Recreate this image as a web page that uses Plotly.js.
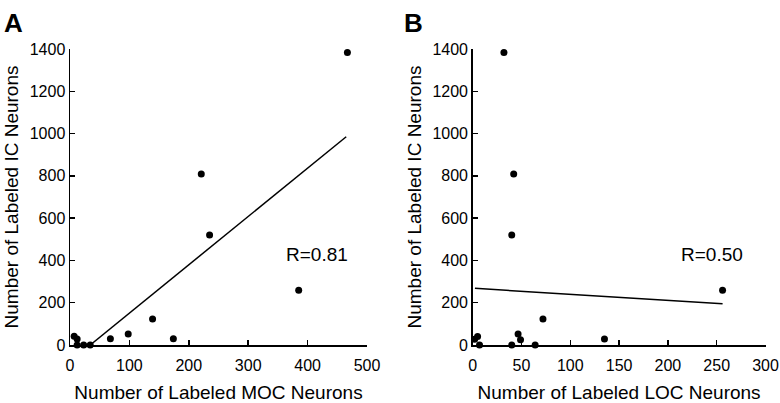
<!DOCTYPE html>
<html>
<head>
<meta charset="utf-8">
<script src="https://cdn.plot.ly/plotly-3.0.1.min.js"></script>
<style>html,body{margin:0;padding:0;background:#fff;}#chart{width:780px;height:403px;}</style>
</head>
<body>
<div id="chart"></div>
<script>
// Panel A: MOC vs IC
const mocNeurons = [467, 221, 235, 385, 139, 98, 68, 174, 7, 12, 12, 23, 34];
const icNeuronsA = [1383, 809, 520, 259, 123, 52, 30, 30, 41, 28, 0, 0, 0];
const fitA_x = [34, 465];
const fitA_y = [0, 985];
const labelA = "R=0.81";

// Panel B: LOC vs IC
const locNeurons = [32, 42, 40, 256, 72, 46.5, 49, 135, 5, 2, 7, 40, 64];
const icNeuronsB = [1383, 809, 520, 259, 123, 52, 25, 28, 40, 27, 0, 0, 0];
const fitB_x = [2.3, 256];
const fitB_y = [268, 195];
const labelB = "R=0.50";

const yTicks = [0, 200, 400, 600, 800, 1000, 1200, 1400];
const xTicksA = [0, 100, 200, 300, 400, 500];
const xTicksB = [0, 50, 100, 150, 200, 250, 300];

const FONT = "Liberation Sans, Arial, Helvetica, sans-serif";
const mk = {color: "#000", size: 7};

const traces = [
  {x: mocNeurons, y: icNeuronsA, mode: "markers", type: "scatter", marker: mk, xaxis: "x", yaxis: "y", cliponaxis: false, showlegend: false},
  {x: fitA_x, y: fitA_y, mode: "lines", type: "scatter", line: {color: "#000", width: 1.5}, xaxis: "x", yaxis: "y", cliponaxis: false, showlegend: false},
  {x: locNeurons, y: icNeuronsB, mode: "markers", type: "scatter", marker: mk, xaxis: "x2", yaxis: "y2", cliponaxis: false, showlegend: false},
  {x: fitB_x, y: fitB_y, mode: "lines", type: "scatter", line: {color: "#000", width: 1.5}, xaxis: "x2", yaxis: "y2", cliponaxis: false, showlegend: false}
];

function xax(domain, ticks, title, anchor) {
  return {
    domain: domain, range: [0, ticks[ticks.length - 1]], anchor: anchor,
    tickvals: ticks, ticktext: ticks.map(String),
    showline: true, linecolor: "#000", linewidth: 1.5,
    ticks: "inside", ticklen: 5, tickwidth: 1.5, tickcolor: "#000",
    showgrid: false, zeroline: false,
    ticklabeloverflow: "allow", ticklabelstandoff: 5,
    tickfont: {family: FONT, size: 16, color: "#000"},
    title: {text: title, font: {family: FONT, size: 19, color: "#000"}, standoff: 15},
    automargin: false, fixedrange: true
  };
}
function yax(domain, anchor) {
  return {
    domain: domain, range: [0, 1400], anchor: anchor,
    tickvals: yTicks, ticktext: yTicks.map(String),
    showline: true, linecolor: "#000", linewidth: 1.5,
    ticks: "inside", ticklen: 5, tickwidth: 1.5, tickcolor: "#000",
    showgrid: false, zeroline: false,
    ticklabeloverflow: "allow",
    tickfont: {family: FONT, size: 16, color: "#000"},
    title: {text: "Number of Labeled IC Neurons", font: {family: FONT, size: 19, color: "#000"}, standoff: 6},
    automargin: false, fixedrange: true
  };
}

const yDom = [(403 - 345) / 403, (403 - 49) / 403];
const layout = {
  width: 780, height: 403,
  margin: {l: 0, r: 0, t: 0, b: 0},
  paper_bgcolor: "#fff", plot_bgcolor: "#fff",
  xaxis: xax([70 / 780, 367 / 780], xTicksA, "Number of Labeled MOC Neurons", "y"),
  yaxis: yax(yDom, "x"),
  xaxis2: xax([472.7 / 780, 765.5 / 780], xTicksB, "Number of Labeled LOC Neurons", "y2"),
  yaxis2: yax(yDom, "x2"),
  annotations: [
    {text: "<b>A</b>", xref: "paper", yref: "paper", x: 2 / 780, y: 1 - 6 / 403, xanchor: "left", yanchor: "top", showarrow: false, font: {family: FONT, size: 26, color: "#000"}},
    {text: "<b>B</b>", xref: "paper", yref: "paper", x: 402 / 780, y: 1 - 6 / 403, xanchor: "left", yanchor: "top", showarrow: false, font: {family: FONT, size: 26, color: "#000"}},
    {text: labelA, xref: "x", yref: "y", x: 416, y: 430, showarrow: false, font: {family: FONT, size: 19, color: "#000"}},
    {text: labelB, xref: "x2", yref: "y2", x: 245, y: 430, showarrow: false, font: {family: FONT, size: 19, color: "#000"}}
  ]
};

Plotly.newPlot("chart", traces, layout, {displayModeBar: false, staticPlot: true});
</script>
</body>
</html>
